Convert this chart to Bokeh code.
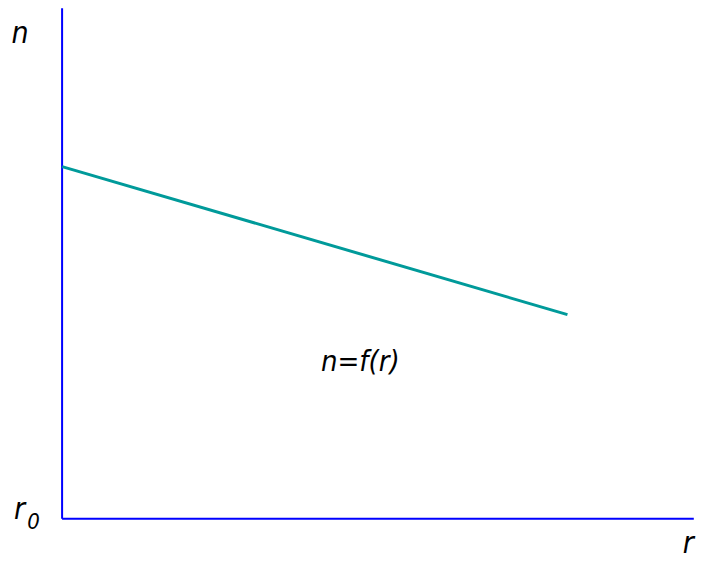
from bokeh.plotting import figure
from bokeh.models import Range1d
from bokeh.core.properties import value
from bokeh.embed import file_html
from bokeh.resources import INLINE

# data
r_axis = [0, 10]          # horizontal axis extent (r)
n_axis = [0, 10]          # vertical axis extent (n)
r_curve = [0.0, 8.0]      # n = f(r) line, r values
n_curve = [6.9, 4.0]      # n = f(r) line, n values
label_curve = "n=f(r)"
label_n = "n"
label_r = "r"
label_r0 = "r"
label_r0_sub = "0"

W, H = 706, 564
p = figure(width=W, height=H, output_backend="svg", toolbar_location=None,
           x_range=Range1d(-0.975, 10.201), y_range=Range1d(-0.895, 10.153),
           min_border=0, outline_line_color=None)
p.axis.visible = False
p.grid.visible = False
p.background_fill_color = "white"
p.border_fill_color = "white"

# axes lines
p.line(x=[r_axis[0], r_axis[0]], y=n_axis, line_color="#0000ff", line_width=2)
p.line(x=r_axis, y=[n_axis[0], n_axis[0]], line_color="#0000ff", line_width=2)

# curve
p.line(x=r_curve, y=n_curve, line_color="#009a9a", line_width=3)

font = value("DejaVu Sans Condensed, DejaVu Sans")
common = dict(text_font=font, text_font_style="italic", text_color="black")

p.text(x=[-0.665], y=[9.52], text=[label_n], text_font_size="30px",
       text_align="center", text_baseline="middle", **common)
p.text(x=[-0.673], y=[0.21], text=[label_r0], text_font_size="30px",
       text_align="center", text_baseline="middle", **common)
p.text(x=[-0.45], y=[-0.04], text=[label_r0_sub], text_font_size="22px",
       text_align="center", text_baseline="middle", **common)
p.text(x=[4.72], y=[3.085], text=[label_curve], text_font_size="29px",
       text_align="center", text_baseline="middle", **common)
p.text(x=[10.0], y=[-0.47], text=[label_r], text_font_size="30px",
       text_align="right", text_baseline="middle", **common)

open("out.html", "w").write(file_html(p, INLINE))
